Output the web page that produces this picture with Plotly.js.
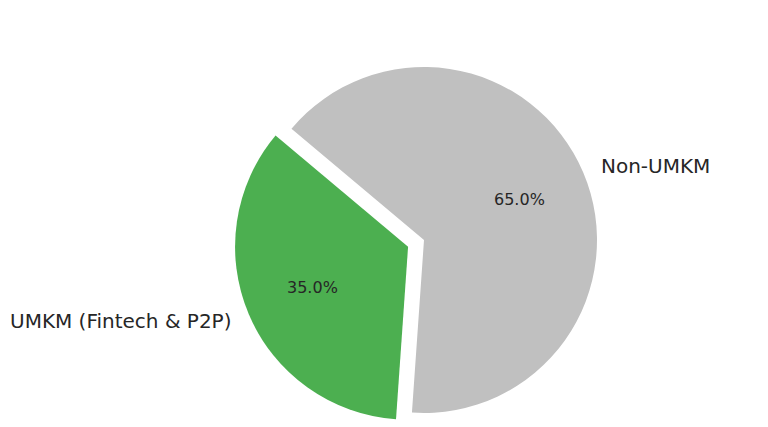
<!DOCTYPE html>
<html>
<head>
<meta charset="utf-8">
<script src="https://cdn.plot.ly/plotly-3.0.1.min.js"></script>
<style>
html,body{margin:0;padding:0;overflow:hidden;background:#fff;}
#chart{width:768px;height:440px;}
</style>
</head>
<body>
<div id="chart"></div>
<script>
// Data
const labels = ["UMKM (Fintech & P2P)", "Non-UMKM"];
const values = [35, 65];
const colors = ["#4CAF50", "#C0C0C0"];
const pulls = [0.1, 0];
const startAngle = 140; // degrees, counterclockwise from 3 o'clock

// Layout geometry (pixels)
const W = 768, H = 440;
const CX = 424, CY = 240, R = 173;
const maxPull = Math.max(...pulls);
const half = R * (1 + maxPull);
const domX = [(CX - half) / W, (CX + half) / W];
const domY = [(H - CY - half) / H, (H - CY + half) / H];

const total = values.reduce((a, b) => a + b, 0);
const annotations = [];
let cum = 0;
const FONT = "DejaVu Sans, sans-serif";
const TXT = "#262626";
values.forEach((v, i) => {
  const mid = startAngle + (cum + v / 2) / total * 360;
  cum += v;
  const a = mid * Math.PI / 180;
  const ox = CX + pulls[i] * R * Math.cos(a);
  const oy = CY - pulls[i] * R * Math.sin(a);
  // percentage label at 0.6 R
  const px = ox + 0.6 * R * Math.cos(a), py = oy - 0.6 * R * Math.sin(a);
  annotations.push({
    x: px / W, y: 1 - py / H, xref: "paper", yref: "paper",
    text: (v / total * 100).toFixed(1) + "%", showarrow: false,
    xanchor: "center", yanchor: "middle",
    font: {family: FONT, size: 16, color: TXT}
  });
  // category label at 1.1 R
  const lx = ox + 1.1 * R * Math.cos(a), ly = oy - 1.1 * R * Math.sin(a);
  annotations.push({
    x: lx / W, y: 1 - ly / H, xref: "paper", yref: "paper",
    text: labels[i], showarrow: false,
    xanchor: Math.cos(a) >= 0 ? "left" : "right", yanchor: "middle",
    font: {family: FONT, size: 20, color: TXT}
  });
});

// Plotly counterclockwise: first slice lies clockwise of 'rotation'
let rot = 90 - (startAngle + values[0] / total * 360);
while (rot < -180) rot += 360;
while (rot > 180) rot -= 360;

const trace = {
  type: "pie",
  labels: labels,
  values: values,
  marker: {colors: colors, line: {width: 0}},
  pull: pulls,
  sort: false,
  direction: "counterclockwise",
  rotation: rot,
  textinfo: "none",
  hoverinfo: "label+percent",
  domain: {x: domX, y: domY}
};

Plotly.newPlot("chart", [trace], {
  width: W, height: H,
  margin: {l: 0, r: 0, t: 0, b: 0},
  showlegend: false,
  paper_bgcolor: "#fff",
  annotations: annotations,
  font: {family: FONT}
}, {displayModeBar: false, staticPlot: true});
</script>
</body>
</html>
